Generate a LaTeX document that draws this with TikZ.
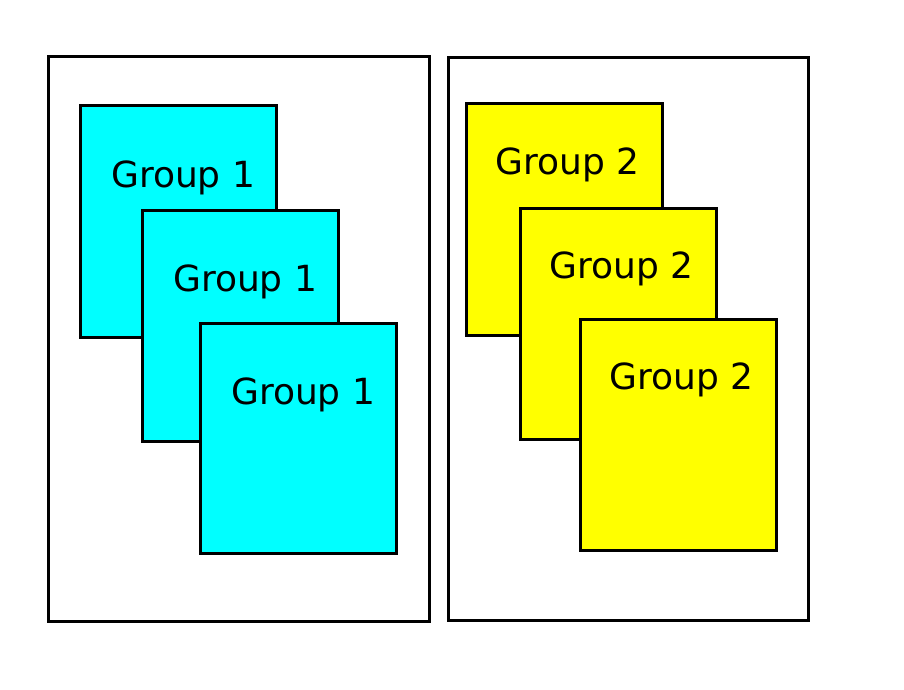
\documentclass[tikz,border=0pt]{standalone}
\usepackage{fontspec}
\setmainfont{DejaVu Sans}
\definecolor{pcyan}{RGB}{0,255,255}
\definecolor{pyellow}{RGB}{255,255,0}
\tikzset{
  frame/.style={draw=black, line width=3pt, fill=white},
  cyanbox/.style={draw=black, line width=3pt, fill=pcyan},
  yellowbox/.style={draw=black, line width=3pt, fill=pyellow},
  lbl/.style={anchor=base west, inner sep=0pt, font=\fontsize{36}{40}\selectfont}
}
\begin{document}
\begin{tikzpicture}[x=1pt,y=-1pt]
\useasboundingbox[fill=white] (0,0) rectangle (904,690);
% frames
\draw[frame] (48,57) rectangle (429,621);
\draw[frame] (448,58) rectangle (808,620);
% cyan group
\draw[cyanbox] (80,106) rectangle (276,337);
\node[lbl] (c1) at (111,187) {Group 1};
\draw[cyanbox] (142,210) rectangle (338,441);
\node[lbl] (c2) at (173,291) {Group 1};
\draw[cyanbox] (200,323) rectangle (396,553);
\node[lbl] (c3) at (231,404) {Group 1};
% yellow group
\draw[yellowbox] (466,104) rectangle (662,335);
\node[lbl] (y1) at (495,174) {Group 2};
\draw[yellowbox] (520,208) rectangle (716,439);
\node[lbl] (y2) at (549,278) {Group 2};
\draw[yellowbox] (580,319) rectangle (776,550);
\node[lbl] (y3) at (609,389) {Group 2};
\end{tikzpicture}
\end{document}
